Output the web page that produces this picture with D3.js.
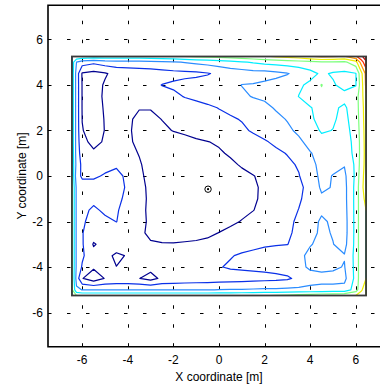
<!DOCTYPE html>
<html>
<head>
<meta charset="utf-8">
<script src="https://cdn.jsdelivr.net/npm/d3@7"></script>
<style>
  html, body { margin: 0; padding: 0; background: #fff; }
  svg { display: block; font-family: "Liberation Sans", Arial, sans-serif; }
</style>
</head>
<body>
<div id="chart"></div>
<script>
// measurement nodes of the room (m); the first/last entries are the walls
const xNodes = [-6.45, -6.25, -6, -5.5, -5, -4.5, -4, -3.5, -3, -2.5, -2, -1.5, -1, -0.5, 0,
  0.5, 1, 1.5, 2, 2.5, 3, 3.5, 4, 4.5, 5, 5.5, 6, 6.25, 6.45];
const yNodes = [5.25, 5, 4.5, 4, 3.5, 3, 2.5, 2, 1.5, 1, 0.5, 0, -0.5, -1, -1.5, -2, -2.5,
  -3, -3.5, -4, -4.5, -5, -5.25];

// field values, one row per yNodes entry (top to bottom)
const field = [
  [4.8, 4.8, 4.7, 4.6, 4.6, 4.6, 4.6, 4.6, 4.6, 4.7, 4.8, 5.0, 5.1, 5.2, 5.3, 5.4, 5.5, 5.7, 5.9, 6.1, 6.3, 6.5, 6.9, 7.2, 7.1, 6.9, 7.8, 8.8, 9.6],
  [4.6, 3.0, 2.5, 2.2, 2.5, 2.6, 2.6, 2.6, 2.7, 2.8, 2.9, 3.05, 3.2, 3.35, 3.5, 3.7, 3.9, 4.1, 4.3, 4.4, 4.5, 4.6, 4.7, 4.9, 4.85, 4.8, 5.6, 7.5, 8.8],
  [4.6, 2.6, 0.9, 0.7, 0.9, 1.3, 1.4, 1.5, 1.5, 1.6, 1.7, 1.75, 1.8, 1.93, 2.2, 2.4, 2.5, 2.6, 2.6, 2.75, 2.95, 3.3, 3.7, 4.15, 3.9, 3.8, 3.95, 5.8, 7.3],
  [4.6, 2.6, 0.95, 0.6, 1.1, 1.3, 1.45, 1.6, 1.75, 2.02, 2.15, 2.3, 2.4, 2.5, 2.6, 2.7, 3.02, 3.05, 3.2, 3.35, 3.5, 3.85, 4.2, 5.05, 4.1, 3.7, 3.95, 5.6, 7.2],
  [4.6, 2.6, 0.95, 0.6, 1.15, 1.35, 1.45, 1.5, 1.6, 1.7, 1.8, 2.05, 2.2, 2.35, 2.5, 2.65, 2.85, 3.05, 3.15, 3.3, 3.5, 4.02, 4.4, 4.7, 4.5, 4.3, 4.6, 5.6, 6.9],
  [4.6, 2.6, 0.95, 0.55, 1.1, 1.3, 1.3, 1.05, 1.05, 1.25, 1.4, 1.55, 1.7, 1.85, 2.03, 2.2, 2.4, 2.6, 2.8, 3.08, 3.35, 3.6, 3.95, 4.3, 4.15, 3.85, 4.6, 5.5, 6.7],
  [4.6, 2.6, 0.98, 0.55, 1.05, 1.25, 1.15, 0.8, 0.8, 1.02, 1.2, 1.35, 1.5, 1.6, 1.75, 1.9, 2.05, 2.3, 2.55, 2.8, 3.05, 3.4, 3.85, 4.3, 4.1, 3.75, 4.5, 5.5, 6.6],
  [4.6, 2.6, 1.05, 0.55, 1.03, 1.25, 1.12, 0.75, 0.7, 0.85, 1.03, 1.15, 1.3, 1.4, 1.55, 1.7, 1.85, 2.1, 2.4, 2.6, 2.85, 3.15, 3.6, 4.1, 3.98, 3.65, 4.4, 5.45, 6.5],
  [4.6, 2.6, 1.25, 0.75, 1.1, 1.3, 1.15, 0.8, 0.65, 0.6, 0.65, 0.75, 0.88, 0.98, 1.1, 1.3, 1.5, 1.7, 1.9, 2.2, 2.5, 2.85, 3.25, 3.7, 3.6, 3.55, 4.3, 5.4, 6.45],
  [4.7, 2.6, 1.5, 1.15, 1.2, 1.35, 1.2, 0.97, 0.7, 0.55, 0.5, 0.55, 0.6, 0.75, 0.9, 1.1, 1.3, 1.5, 1.65, 1.8, 2.05, 2.4, 2.95, 3.3, 3.45, 3.5, 4.25, 5.4, 6.4],
  [4.8, 2.7, 1.75, 1.5, 1.7, 1.9, 1.5, 1.07, 0.75, 0.55, 0.45, 0.45, 0.5, 0.6, 0.7, 0.85, 1.08, 1.3, 1.45, 1.6, 1.8, 2.1, 2.85, 3.15, 3.2, 3.05, 4.2, 5.5, 6.4],
  [5.0, 2.4, 1.85, 1.85, 2.1, 2.2, 1.85, 1.1, 0.85, 0.6, 0.45, 0.4, 0.4, 0.45, 0.5, 0.65, 0.8, 0.97, 1.2, 1.4, 1.6, 1.95, 2.6, 3.2, 2.97, 2.8, 4.2, 5.7, 6.4],
  [5.2, 2.8, 2.4, 2.4, 2.45, 2.4, 1.85, 1.2, 0.85, 0.6, 0.45, 0.35, 0.35, 0.35, 0.4, 0.5, 0.65, 0.88, 1.15, 1.35, 1.55, 1.8, 2.3, 3.15, 2.95, 2.7, 4.3, 5.85, 6.3],
  [5.2, 2.8, 2.4, 2.3, 2.3, 2.25, 1.75, 1.25, 0.85, 0.6, 0.45, 0.35, 0.35, 0.35, 0.4, 0.5, 0.65, 0.9, 1.15, 1.35, 1.55, 1.9, 2.3, 2.85, 2.75, 2.7, 4.3, 5.8, 6.15],
  [5.2, 2.8, 2.3, 1.8, 2.2, 2.1, 1.6, 1.2, 0.85, 0.6, 0.5, 0.45, 0.4, 0.4, 0.45, 0.55, 0.75, 0.98, 1.25, 1.45, 1.7, 2.02, 2.4, 2.85, 2.75, 2.65, 4.3, 5.8, 6.0],
  [5.2, 2.8, 2.2, 1.5, 1.75, 2.02, 1.5, 1.2, 0.88, 0.65, 0.55, 0.5, 0.5, 0.5, 0.6, 0.8, 1.05, 1.3, 1.5, 1.65, 1.8, 2.15, 2.6, 3.15, 2.85, 2.6, 4.3, 5.8, 5.95],
  [5.2, 2.8, 2.05, 1.4, 1.45, 1.5, 1.4, 1.15, 0.85, 0.7, 0.65, 0.65, 0.7, 0.8, 1.02, 1.25, 1.5, 1.65, 1.75, 1.85, 1.8, 2.3, 2.75, 3.15, 2.95, 2.6, 4.3, 5.8, 5.95],
  [5.2, 2.8, 2.1, 0.92, 1.3, 1.35, 1.3, 1.2, 1.08, 1.05, 1.05, 1.1, 1.15, 1.25, 1.4, 1.55, 1.7, 1.8, 1.9, 1.95, 1.98, 2.35, 2.95, 3.2, 3.02, 2.7, 4.3, 5.8, 5.95],
  [5.2, 2.8, 2.15, 1.3, 1.2, 0.88, 1.05, 1.25, 1.3, 1.35, 1.4, 1.5, 1.6, 1.7, 1.85, 1.95, 2.1, 2.2, 2.3, 2.4, 2.55, 2.8, 3.2, 3.35, 3.25, 3.05, 4.3, 5.8, 5.95],
  [5.2, 2.8, 1.9, 1.15, 1.25, 1.01, 1.2, 1.25, 1.3, 1.35, 1.5, 1.6, 1.7, 1.8, 1.95, 2.1, 2.15, 2.2, 2.25, 2.35, 2.5, 2.75, 3.15, 3.25, 3.15, 2.95, 4.3, 5.8, 5.95],
  [5.2, 2.6, 1.05, 0.4, 1.05, 1.2, 1.2, 1.02, 0.65, 1.2, 1.25, 1.35, 1.4, 1.45, 1.5, 1.55, 1.6, 1.65, 1.7, 1.75, 1.85, 2.25, 2.6, 2.7, 2.7, 2.75, 4.3, 5.8, 6.0],
  [5.2, 3.2, 2.97, 2.97, 2.97, 2.97, 2.97, 2.97, 2.97, 2.97, 2.97, 2.97, 2.97, 2.97, 3.02, 3.05, 3.05, 3.1, 3.15, 3.15, 3.2, 3.2, 3.25, 3.3, 3.3, 3.35, 4.5, 5.9, 6.5],
  [5.3, 5.0, 4.8, 4.8, 4.8, 4.8, 4.8, 4.8, 4.8, 4.8, 4.8, 4.8, 4.8, 4.8, 4.82, 4.85, 4.88, 4.92, 4.96, 5.05, 5.15, 5.3, 5.45, 5.6, 5.7, 5.8, 6.0, 6.4, 6.6]
];

const levels = [1, 2, 3, 4, 5, 6, 7, 8, 9];
const levelColors = ['#00008f', '#0a30e8', '#2a8cff', '#00eeff', '#7dff7d', '#eeee00', '#ff9900', '#ff2a00', '#c00000'];
const ticks = [-6, -4, -2, 0, 2, 4, 6];
const source = [-0.48, -0.58];

const width = 380, height = 385;
const x = d3.scaleLinear().domain([-7.5, 7.5]).range([48, 390]);
const y = d3.scaleLinear().domain([-7.5, 7.5]).range([346.7, 5.3]);

const svg = d3.select('#chart').append('svg')
  .attr('width', width)
  .attr('height', height);

// dotted grid
const gridV = svg.append('g')
  .attr('stroke', '#000')
  .attr('stroke-width', 1)
  .attr('stroke-dasharray', '3.5,15.47');
gridV.selectAll('line')
  .data(ticks)
  .join('line')
  .attr('x1', d => Math.round(x(d)) + 0.5)
  .attr('x2', d => Math.round(x(d)) + 0.5)
  .attr('y1', y(-7.5))
  .attr('y2', y(7.5));

const gridH = svg.append('g')
  .attr('stroke', '#000')
  .attr('stroke-width', 1)
  .attr('stroke-dasharray', '3.5,15.5');
gridH.selectAll('line')
  .data(ticks)
  .join('line')
  .attr('x1', x(-7.5))
  .attr('x2', x(7.5))
  .attr('y1', d => Math.round(y(d)) + 0.5)
  .attr('y2', d => Math.round(y(d)) + 0.5);

// contour lines: grid index -> metres -> pixels
const nx = xNodes.length, ny = yNodes.length;
const values = field.flat();
const gx = d3.scaleLinear().domain(xNodes.map((d, i) => i + 0.5)).range(xNodes).clamp(true);
const gy = d3.scaleLinear().domain(yNodes.map((d, i) => i + 0.5)).range(yNodes).clamp(true);
const toPixels = d3.geoTransform({
  point(px, py) { this.stream.point(x(gx(px)), y(gy(py))); }
});
const path = d3.geoPath(toPixels);
const contours = d3.contours().size([nx, ny]);

svg.append('g')
  .attr('fill', 'none')
  .attr('stroke-width', 1.2)
  .attr('stroke-linejoin', 'round')
  .selectAll('path')
  .data(levels.map(l => contours.contour(values, l)))
  .join('path')
  .attr('stroke', (d, i) => levelColors[i])
  .attr('d', path);

// room walls
svg.append('rect')
  .attr('x', x(xNodes[0]))
  .attr('y', y(yNodes[0]))
  .attr('width', x(xNodes[nx - 1]) - x(xNodes[0]))
  .attr('height', y(yNodes[ny - 1]) - y(yNodes[0]))
  .attr('fill', 'none')
  .attr('stroke', '#3a3a3a')
  .attr('stroke-width', 1.8);

// source marker
svg.append('circle')
  .attr('cx', x(source[0])).attr('cy', y(source[1])).attr('r', 3.2)
  .attr('fill', 'none').attr('stroke', '#000').attr('stroke-width', 1);
svg.append('circle')
  .attr('cx', x(source[0])).attr('cy', y(source[1])).attr('r', 1.1)
  .attr('fill', '#000');

// axes box
svg.append('path')
  .attr('d', `M${x(7.5)},${y(7.5)}H${x(-7.5)}V${y(-7.5)}H${x(7.5)}`)
  .attr('fill', 'none')
  .attr('stroke', '#000')
  .attr('stroke-width', 1.6);

svg.append('g')
  .attr('stroke', '#000')
  .selectAll('line')
  .data(ticks)
  .join('line')
  .attr('x1', d => Math.round(x(d)) + 0.5)
  .attr('x2', d => Math.round(x(d)) + 0.5)
  .attr('y1', y(7.5))
  .attr('y2', y(7.5) + 4);

svg.append('g')
  .attr('font-size', 12)
  .attr('text-anchor', 'middle')
  .selectAll('text')
  .data(ticks)
  .join('text')
  .attr('x', d => x(d))
  .attr('y', 364)
  .text(d => d);

svg.append('g')
  .attr('font-size', 12)
  .attr('text-anchor', 'end')
  .selectAll('text')
  .data(ticks)
  .join('text')
  .attr('x', 43)
  .attr('y', d => y(d))
  .attr('dy', '0.36em')
  .text(d => d);

svg.append('text')
  .attr('x', 219)
  .attr('y', 381)
  .attr('font-size', 12)
  .attr('text-anchor', 'middle')
  .text('X coordinate [m]');

svg.append('text')
  .attr('transform', 'translate(25.5,176) rotate(-90)')
  .attr('font-size', 12)
  .attr('text-anchor', 'middle')
  .text('Y coordinate [m]');
</script>
</body>
</html>
